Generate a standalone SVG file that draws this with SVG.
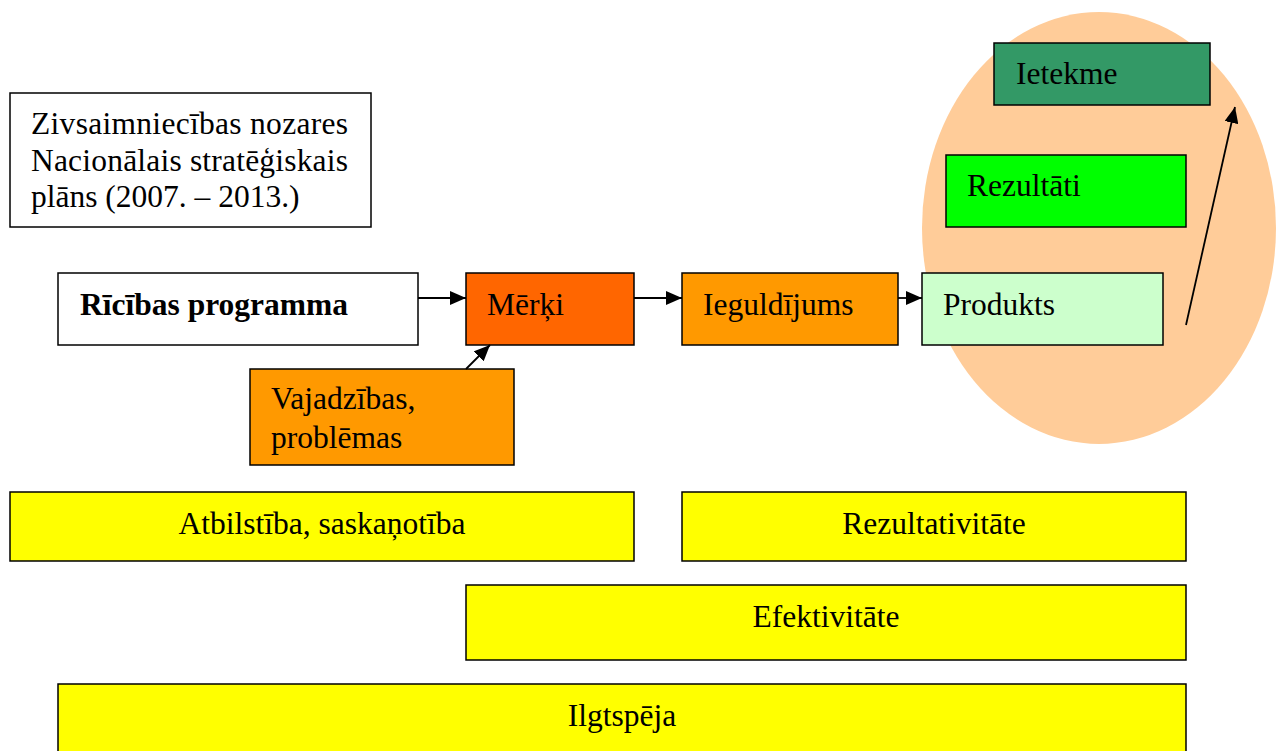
<svg xmlns="http://www.w3.org/2000/svg" width="1276" height="751" viewBox="0 0 1276 751">
<style>
text{font-family:"Liberation Serif","Times New Roman",serif;font-size:31.5px;fill:#000}
.b{stroke:#000;stroke-width:1.5}
.c{text-anchor:middle}
.ln{stroke:#000;stroke-width:1.8;fill:none}
</style>
<defs>
<marker id="ah" markerUnits="userSpaceOnUse" markerWidth="16" markerHeight="14" refX="16" refY="7" orient="auto">
<path d="M0,0 L16,7 L0,14 z" fill="#000"/>
</marker>
</defs>
<rect width="1276" height="751" fill="#fff"/>
<ellipse cx="1099" cy="228" rx="177" ry="216" fill="#FFCC99"/>
<g id="title">
<rect class="b" x="10" y="93" width="361" height="134" fill="#fff"/>
<text x="31" y="134" textLength="317" lengthAdjust="spacing">Zivsaimniecības nozares</text>
<text x="31" y="171" textLength="317" lengthAdjust="spacing">Nacionālais stratēģiskais</text>
<text x="31" y="207">plāns (2007. – 2013.)</text>
</g>
<g id="ricibas">
<rect class="b" x="58" y="273" width="360" height="72" fill="#fff"/>
<text x="80" y="315" font-weight="bold">Rīcības programma</text>
</g>
<g id="merki">
<rect class="b" x="466" y="273" width="168" height="72" fill="#FF6600"/>
<text x="487" y="315">Mērķi</text>
</g>
<g id="ieguldijums">
<rect class="b" x="682" y="273" width="216" height="72" fill="#FF9900"/>
<text x="703" y="315">Ieguldījums</text>
</g>
<g id="produkts">
<rect class="b" x="922" y="273" width="241" height="72" fill="#CCFFCC"/>
<text x="943" y="315">Produkts</text>
</g>
<g id="rezultati">
<rect class="b" x="946" y="155" width="240" height="72" fill="#00FF00"/>
<text x="967" y="196">Rezultāti</text>
</g>
<g id="ietekme">
<rect class="b" x="994" y="43" width="216" height="62" fill="#339966"/>
<text x="1016" y="84">Ietekme</text>
</g>
<g id="vajadzibas">
<rect class="b" x="250" y="369" width="264" height="96" fill="#FF9900"/>
<text x="271" y="409">Vajadzības,</text>
<text x="271" y="448">problēmas</text>
</g>
<g id="atbilstiba">
<rect class="b" x="10" y="492" width="624" height="69" fill="#FFFF00"/>
<text class="c" x="322" y="534">Atbilstība, saskaņotība</text>
</g>
<g id="rezultativitate">
<rect class="b" x="682" y="492" width="504" height="69" fill="#FFFF00"/>
<text class="c" x="934" y="534">Rezultativitāte</text>
</g>
<g id="efektivitate">
<rect class="b" x="466" y="585" width="720" height="75" fill="#FFFF00"/>
<text class="c" x="826" y="627">Efektivitāte</text>
</g>
<g id="ilgtspeja">
<rect class="b" x="58" y="684" width="1128" height="80" fill="#FFFF00"/>
<text class="c" x="622" y="726">Ilgtspēja</text>
</g>
<g id="connectors">
<line class="ln" x1="418" y1="298" x2="466" y2="298" marker-end="url(#ah)"/>
<line class="ln" x1="634" y1="298" x2="682" y2="298" marker-end="url(#ah)"/>
<line class="ln" x1="898" y1="298" x2="922" y2="298" marker-end="url(#ah)"/>
<line class="ln" x1="466" y1="369" x2="490" y2="345" marker-end="url(#ah)"/>
<line class="ln" x1="1186" y1="325" x2="1235" y2="107" marker-end="url(#ah)"/>
</g>
</svg>
